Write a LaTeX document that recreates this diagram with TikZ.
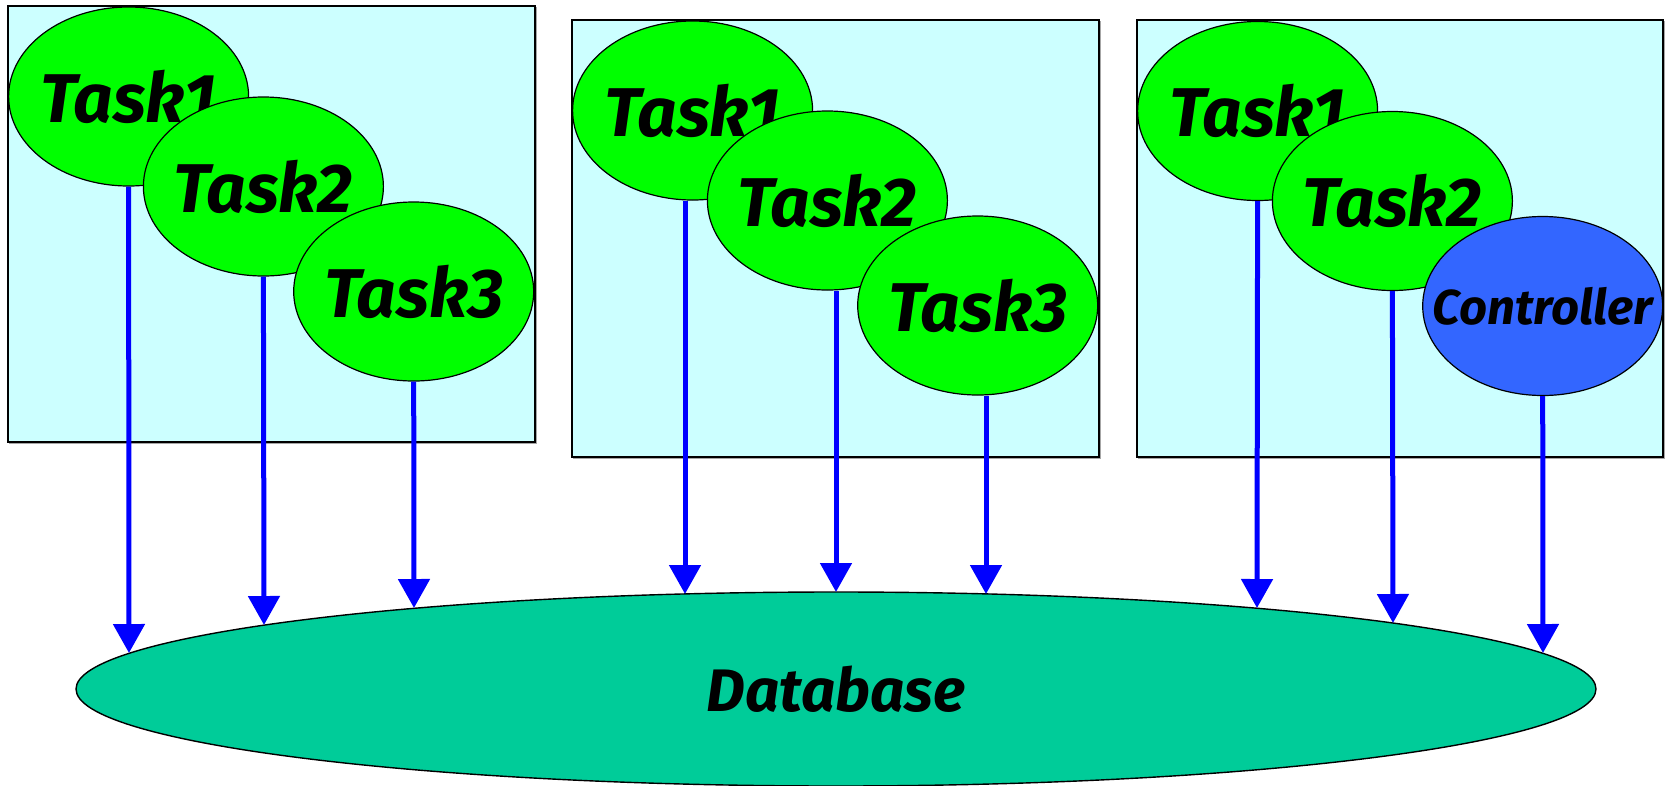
\documentclass[tikz,border=0pt]{standalone}
\usepackage{fontspec}
\newfontfamily\handfont{Fira Sans}
\usetikzlibrary{shapes.geometric,arrows.meta}

\definecolor{hostfill}{HTML}{CCFFFF}
\definecolor{taskfill}{HTML}{00FF00}
\definecolor{ctrlfill}{HTML}{3366FF}
\definecolor{dbfill}{HTML}{00CC99}
\definecolor{flowblue}{HTML}{0000FF}

% zero-width label so the text never widens its ellipse
\newcommand{\flatlabel}[1]{\makebox[0pt]{#1}}

\tikzset{
  host/.style={draw=black, line width=1.6pt, fill=hostfill},
  hostshadow/.style={draw=black!35, line width=1.6pt},
  proc/.style={ellipse, draw=black, line width=1.2pt, fill=taskfill,
    minimum width=240pt, minimum height=179pt, inner sep=0pt,
    font=\handfont\bfseries\itshape\fontsize{69}{69}\selectfont},
  ctrl/.style={proc, fill=ctrlfill,
    font=\handfont\bfseries\itshape\fontsize{49}{49}\selectfont},
  store/.style={ellipse, draw=black, line width=1.4pt, fill=dbfill,
    minimum width=1520pt, minimum height=194pt, inner sep=0pt,
    font=\handfont\bfseries\itshape\fontsize{60}{60}\selectfont},
  flow/.style={draw=flowblue, line width=5pt,
    -{Triangle[width=31pt,length=29pt]}}
}

\begin{document}
\begin{tikzpicture}[x=1pt,y=-1pt]
\useasboundingbox (0,0) rectangle (1671,785);

% host boxes
\draw[hostshadow] (9.5,7.5) rectangle (536.5,443.5);
\draw[hostshadow] (573.5,21.5) rectangle (1100.5,458.5);
\draw[hostshadow] (1138.5,21.5) rectangle (1664.5,458.5);
\path[host] (8,6) rectangle (535,442);
\path[host] (572,20) rectangle (1099,457);
\path[host] (1137,20) rectangle (1663,457);

% first host
\node[proc] (aa) at (128.6,96.5) {\flatlabel{Task1}};
\node[proc] (ab) at (263.4,186.5) {\flatlabel{Task2}};
\node[proc] (ac) at (413.7,291.5) {\flatlabel{Task3}};

% second host
\node[proc] (ba) at (692.6,110.5) {\flatlabel{Task1}};
\node[proc] (bb) at (827.4,200.5) {\flatlabel{Task2}};
\node[proc] (bc) at (977.7,305.5) {\flatlabel{Task3}};

% third host
\node[proc] (ca) at (1257.6,111) {\flatlabel{Task1}};
\node[proc] (cb) at (1392.4,201) {\flatlabel{Task2}};
\node[ctrl] (cc) at (1542.7,306) {\flatlabel{Controller}};

% shared database
\node[store] (db) at (836,689) {\flatlabel{Database}};

% arrow ends on the database rim
\coordinate (ea) at (129,653);
\coordinate (eb) at (264,625);
\coordinate (ec) at (414,608);
\coordinate (fa) at (685,594);
\coordinate (fb) at (836,592);
\coordinate (fc) at (986,594);
\coordinate (ga) at (1257,608);
\coordinate (gb) at (1393,623);
\coordinate (gc) at (1543,653);

\draw[flow] (aa.south) -- (ea);
\draw[flow] (ab.south) -- (eb);
\draw[flow] (ac.south) -- (ec);
\draw[flow] ([xshift=-7.6pt]ba.south) -- (fa);
\draw[flow] ([xshift=8.6pt]bb.south) -- (fb);
\draw[flow] ([xshift=8.3pt]bc.south) -- (fc);
\draw[flow] (ca.south) -- (ga);
\draw[flow] (cb.south) -- (gb);
\draw[flow] (cc.south) -- (gc);
\end{tikzpicture}
\end{document}
